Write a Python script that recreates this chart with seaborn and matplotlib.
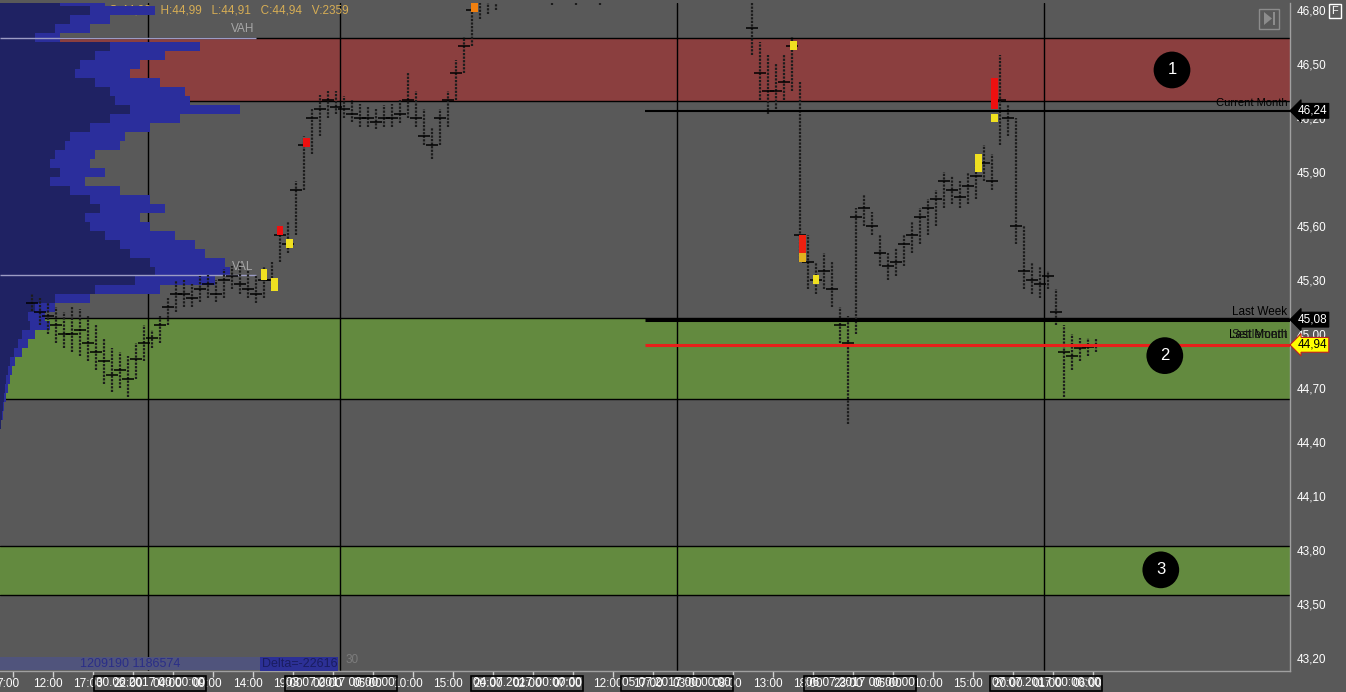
import numpy as np
import matplotlib
matplotlib.use("Agg")
import matplotlib.pyplot as plt
import seaborn as sns
from matplotlib.transforms import ScaledTranslation, blended_transform_factory
from matplotlib.patches import Rectangle, Polygon

# --- price bars (x = trading hours from left edge) ---
bar_hour = list(range(4, 63)) + list(range(68, 77)) + list(range(94, 138))
bar_low = [45.13, 45.05, 45.00, 44.95, 44.92, 44.90, 44.88, 44.85, 44.80, 44.72,
           44.68, 44.70, 44.65, 44.75, 44.85, 44.92, 44.95, 45.05, 45.12, 45.15,
           45.15, 45.18, 45.20, 45.18, 45.20, 45.25, 45.22, 45.20, 45.17, 45.20,
           45.25, 45.40, 45.45, 45.55, 45.80, 46.00, 46.10, 46.20, 46.22, 46.20,
           46.18, 46.15, 46.15, 46.14, 46.15, 46.15, 46.17, 46.20, 46.15, 46.05,
           45.97, 46.05, 46.15, 46.30, 46.45, 46.60, 46.75, 46.78, 46.80,
           46.84, 46.83, 46.85, 46.84, 46.83, 46.84, 46.85, 46.83, 46.84,
           46.55, 46.30, 46.22, 46.25, 46.30, 46.35, 45.40, 45.25, 45.22, 45.25,
           45.15, 44.95, 44.50, 45.00, 45.60, 45.55, 45.38, 45.30, 45.32, 45.38,
           45.45, 45.50, 45.55, 45.60, 45.70, 45.72, 45.70, 45.72, 45.75, 45.85,
           45.80, 46.05, 46.10, 45.50, 45.25, 45.22, 45.20, 45.25, 45.05, 44.65,
           44.80, 44.85, 44.88, 44.90]
bar_high = [45.22, 45.20, 45.18, 45.15, 45.12, 45.15, 45.14, 45.10, 45.05, 44.98,
            44.92, 44.90, 44.88, 44.95, 45.05, 45.02, 45.10, 45.20, 45.30, 45.30,
            45.28, 45.32, 45.33, 45.30, 45.36, 45.38, 45.40, 45.35, 45.33, 45.38,
            45.40, 45.60, 45.62, 45.85, 46.10, 46.25, 46.33, 46.35, 46.35, 46.32,
            46.30, 46.28, 46.26, 46.25, 46.27, 46.28, 46.30, 46.45, 46.35, 46.25,
            46.15, 46.25, 46.35, 46.52, 46.65, 46.85, 46.95, 46.95, 46.98,
            47.00, 47.00, 47.00, 47.00, 47.00, 47.00, 47.00, 47.00, 47.00,
            46.90, 46.62, 46.55, 46.50, 46.55, 46.65, 46.40, 45.55, 45.40, 45.45,
            45.40, 45.15, 45.10, 45.70, 45.78, 45.68, 45.55, 45.45, 45.48, 45.55,
            45.62, 45.70, 45.75, 45.80, 45.90, 45.88, 45.85, 45.90, 45.95, 46.05,
            46.00, 46.55, 46.28, 46.20, 45.60, 45.40, 45.38, 45.35, 45.25, 45.05,
            45.00, 44.98, 44.98, 44.97]
bar_close = [45.17, 45.12, 45.10, 45.05, 45.00, 45.00, 45.02, 44.95, 44.90, 44.85,
             44.77, 44.80, 44.75, 44.86, 44.95, 44.98, 45.05, 45.15, 45.22, 45.22,
             45.20, 45.25, 45.28, 45.22, 45.30, 45.32, 45.28, 45.25, 45.22, 45.30,
             45.30, 45.55, 45.50, 45.80, 46.05, 46.20, 46.25, 46.30, 46.26, 46.25,
             46.22, 46.20, 46.20, 46.18, 46.20, 46.20, 46.22, 46.30, 46.20, 46.10,
             46.05, 46.20, 46.30, 46.45, 46.60, 46.80, 46.88, 46.85, 46.90,
             46.90, 46.90, 46.90, 46.90, 46.90, 46.90, 46.90, 46.90, 46.90,
             46.70, 46.45, 46.35, 46.35, 46.40, 46.60, 45.55, 45.40, 45.30, 45.35,
             45.25, 45.05, 44.95, 45.65, 45.70, 45.60, 45.45, 45.38, 45.40, 45.50,
             45.55, 45.65, 45.70, 45.75, 45.85, 45.80, 45.76, 45.82, 45.88, 45.95,
             45.85, 46.30, 46.20, 45.60, 45.35, 45.30, 45.28, 45.32, 45.12, 44.90,
             44.88, 44.92, 44.93, 44.94]

# --- high-volume clusters ---
hl_hour = [33, 34.3, 35, 36.2, 38.3, 59.3, 99.2, 100.3, 100.3, 102, 122.3, 124.3, 124.3]
hl_low = [45.30, 45.24, 45.55, 45.48, 46.04, 46.79, 46.58, 45.40, 45.40, 45.28, 45.90, 46.18, 46.25]
hl_high = [45.36, 45.31, 45.60, 45.53, 46.09, 46.84, 46.63, 45.55, 45.45, 45.33, 46.00, 46.22, 46.42]
hl_color = ["#f0e020", "#f0e020", "#ee1010", "#f0e020", "#ee1010", "#f08010", "#f0e020",
            "#ee2010", "#e0b020", "#f0e020", "#f0e020", "#f0e020", "#ee1010"]

# --- volume profile (left) ---
profile_price = [46.85, 46.80, 46.75, 46.70, 46.65, 46.60, 46.55, 46.50, 46.45, 46.40,
                 46.35, 46.30, 46.25, 46.20, 46.15, 46.10, 46.05, 46.00, 45.95, 45.90,
                 45.85, 45.80, 45.75, 45.70, 45.65, 45.60, 45.55, 45.50, 45.45, 45.40,
                 45.35, 45.30, 45.25, 45.20, 45.15, 45.10, 45.05, 45.00, 44.95, 44.90,
                 44.85, 44.80, 44.75, 44.70, 44.65, 44.60, 44.55, 44.50]
profile_vol = [105, 155, 110, 90, 60, 200, 165, 140, 130, 160,
               185, 190, 240, 180, 150, 125, 120, 95, 90, 105,
               85, 120, 150, 165, 140, 150, 175, 195, 205, 225,
               230, 215, 160, 90, 55, 45, 50, 35, 28, 22,
               15, 12, 10, 8, 6, 4, 3, 1]
profile_inner = [60, 90, 70, 55, 35, 110, 95, 80, 75, 95,
                 110, 115, 130, 110, 90, 70, 65, 55, 50, 60,
                 50, 70, 90, 100, 85, 90, 105, 120, 130, 150,
                 155, 135, 95, 55, 35, 28, 30, 22, 18, 14,
                 10, 8, 6, 5, 4, 3, 2, 1]

# --- zones and levels ---
zone_low = [46.295, 44.639, 43.55]
zone_high = [46.645, 45.089, 43.822]
zone_color = ["#8b3f3f", "#638a3f", "#638a3f"]
level_price = [46.24, 45.08, 44.94]
level_color = ["black", "black", "#e8201a"]
level_width = [1.5, 2.2, 2.2]
tag_face = ["black", "black", "#ffff00"]
tag_edge = ["black", "black", "#c02020"]
tag_text = ["white", "white", "black"]

marker_label = ["1", "2", "3"]
marker_hour = [146.5, 145.6, 145.1]
marker_price = [46.467, 44.88, 43.69]

day_lines = [18.5, 42.5, 84.6, 130.5]
date_hour = [18.75, 42.6, 65.9, 84.6, 107.5, 130.75]
date_text = ["30.06.2017", "03.07.2017", "04.07.2017", "05.07.2017", "06.07.2017", "07.07.2017"]
time_labels = ["7:00", "12:00", "17:00", "22:00", "04:00", "09:00", "14:00", "19:00",
               "00:00", "05:00", "10:00", "15:00", "20:00", "02:00", "07:00", "12:00",
               "17:00", "03:00", "08:00", "13:00", "18:00", "23:00", "05:00", "10:00",
               "15:00", "20:00", "01:00", "06:00"]

sns.set_theme(style="dark")
plt.rcParams['font.family'] = ['Liberation Sans', 'DejaVu Sans']

BG = "#595959"
fig = plt.figure(figsize=(13.46, 6.92), dpi=100, facecolor=BG)
ax = fig.add_axes([0, 21 / 692, 1290 / 1346, 668 / 692])
ax.set_facecolor(BG)
ax.set_xlim(0, 161.25)
ax.set_ylim(43.128, 46.839)
ax.grid(False)

# zones
for lo, hi, c in zip(zone_low, zone_high, zone_color):
    ax.axhspan(lo, hi, color=c, lw=0, zorder=0)
    ax.axhline(lo, color="black", lw=1, zorder=1)
    ax.axhline(hi, color="black", lw=1, zorder=1)

for x in day_lines:
    ax.axvline(x, color="black", lw=1, zorder=1)

# OHLC header
ax.text(13.6, 46.80, "O:44,93   H:44,99   L:44,91   C:44,94   V:2359", color="#d6ad55",
        fontsize=8.5, va="center", zorder=1)

# volume profile
ax.barh(profile_price, np.array(profile_vol) / 8, height=0.05, left=0,
        color="#2b2e9c", lw=0, zorder=2)
ax.barh(profile_price, np.array(profile_inner) / 8, height=0.05, left=0,
        color="#1f2263", lw=0, zorder=2)
ax.hlines([46.645, 45.328], 0, 32, color="#9c9cc4", lw=1, zorder=3)
ax.text(30.3, 46.695, "VAH", color="#a8a8a8", fontsize=8.5, ha="center", va="center", zorder=3)
ax.text(30.3, 45.372, "VAL", color="#a8a8a8", fontsize=8.5, ha="center", va="center", zorder=3)

# price bars
ax.vlines(bar_hour, bar_low, bar_high, color="#1c1c1c", lw=1.6,
          linestyles=(0, (1, 0.6)), zorder=3)
ax.hlines(bar_close, np.array(bar_hour) - 0.7, np.array(bar_hour) + 0.7,
          color="black", lw=1.1, zorder=3)
ax.bar(hl_hour, np.array(hl_high) - np.array(hl_low), bottom=hl_low, width=0.8,
       color=hl_color, lw=0, zorder=4)

# levels
for p, c, w in zip(level_price, level_color, level_width):
    ax.hlines(p, 80.6, 161.25, color=c, lw=w, zorder=5)
ax.text(160.9, 46.283, "Current Month", fontsize=8, ha="right", va="center", color="black", zorder=5)
ax.text(160.9, 45.125, "Last Week", fontsize=8.5, ha="right", va="center", color="black", zorder=5)
ax.text(160.9, 44.995, "Last Month", fontsize=8.5, ha="right", va="center", color="black", zorder=5)
ax.text(160.9, 44.995, "Settlement", fontsize=8.5, ha="right", va="center", color="#1a1a1a", zorder=5)

# numbered circles
sns.scatterplot(x=marker_hour, y=marker_price, s=700, color="black", edgecolor="none",
                legend=False, ax=ax, zorder=6)
for lab, x, y in zip(marker_label, marker_hour, marker_price):
    ax.text(x, y, lab, color="white", fontsize=12, ha="center", va="center", zorder=7)

# bottom-left info strip
ax.add_patch(Rectangle((0, 43.133), 33, 0.072, fc="#50547c", lw=0, zorder=2))
ax.text(10, 43.167, "1209190 1186574", color="#2a2e88", fontsize=9, va="center", zorder=3)
ax.text(32.7, 43.167, "Delta=-22616", color="#1a1d60", fontsize=9, va="center", zorder=3,
        bbox=dict(boxstyle="square,pad=0.1", fc="#2c3096", ec="none"))
ax.text(43.2, 43.19, "30", color="#7c7c7c", fontsize=8.5, va="center", zorder=3)

# axes styling
for s in ["top", "left"]:
    ax.spines[s].set_visible(False)
for s in ["right", "bottom"]:
    ax.spines[s].set_color("#a0a0a0")
    ax.spines[s].set_linewidth(1)

yt = np.round(np.arange(43.2, 46.81, 0.3), 2)
ax.yaxis.tick_right()
ax.set_yticks(yt)
ax.set_yticklabels([f"{v:.2f}".replace(".", ",") for v in yt])
ax.tick_params(axis="y", length=0, pad=5, labelcolor="white", labelsize=8.5)

xt = 1.6 + 5 * np.arange(len(time_labels))
ax.set_xticks(xt)
ax.set_xticklabels(time_labels)
ax.tick_params(axis="x", length=4, width=1, color="#d0d0d0", direction="out", pad=1,
               labelcolor="white", labelsize=8.5, bottom=True)
for lab in ax.get_xticklabels():
    lab.set_transform(lab.get_transform() + ScaledTranslation(-0.05, 0, fig.dpi_scale_trans))

trans = blended_transform_factory(ax.transData, ax.transAxes)
for x, d in zip(date_hour, date_text):
    ax.text(x, -0.0187, d + " 00:00:00", transform=trans, ha="center", va="center",
            color="white", fontsize=8.5, clip_on=False,
            bbox=dict(boxstyle="square,pad=0.15", fc="none", ec="black", lw=1.2))

# price tags on right axis
ytrans = blended_transform_factory(ax.transAxes, ax.transData)
for p, fc, ec, tc in zip(level_price, tag_face, tag_edge, tag_text):
    ax.text(1.006, p, f"{p:.2f}".replace(".", ","), transform=ytrans, ha="left", va="center",
            color=tc, fontsize=8.5, clip_on=False, zorder=8,
            bbox=dict(boxstyle="larrow,pad=0.12", fc=fc, ec=ec, lw=0.8))

# toolbar glyphs top-right
fig.text(1335 / 1346, 1 - 11 / 692, "F", color="white", fontsize=8, ha="center", va="center",
         bbox=dict(boxstyle="square,pad=0.2", fc="none", ec="white", lw=1))
fig.add_artist(Rectangle((1259 / 1346, 1 - 29 / 692), 20 / 1346, 20 / 692,
                         transform=fig.transFigure, fill=False, ec="#8c8c8c", lw=1))
fig.add_artist(Polygon([[1264 / 1346, 1 - 12 / 692], [1264 / 1346, 1 - 25 / 692],
                        [1272 / 1346, 1 - 18.5 / 692]], transform=fig.transFigure,
                       fc="#8c8c8c", ec="none"))
fig.add_artist(Rectangle((1273 / 1346, 1 - 25 / 692), 2 / 1346, 13 / 692,
                         transform=fig.transFigure, fc="#8c8c8c", ec="none"))

fig.savefig("out.png", dpi=100, facecolor=BG)
